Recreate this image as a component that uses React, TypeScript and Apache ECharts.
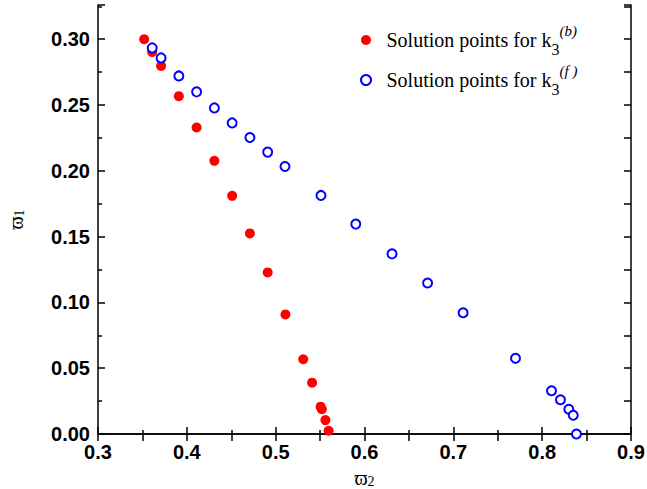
import React, { useEffect, useRef } from "react";
import * as echarts from "echarts";

const redX = [0.352, 0.361, 0.371, 0.391, 0.411, 0.431, 0.451, 0.471, 0.491, 0.511, 0.531, 0.541, 0.5506, 0.552, 0.556, 0.5596];
const redY = [0.300, 0.2903, 0.2797, 0.2567, 0.2329, 0.2076, 0.181, 0.1524, 0.1228, 0.0909, 0.0568, 0.039, 0.0208, 0.0188, 0.0106, 0.0025];
const blueX = [0.361, 0.371, 0.391, 0.411, 0.431, 0.451, 0.471, 0.491, 0.5105, 0.551, 0.5902, 0.631, 0.671, 0.711, 0.77, 0.8105, 0.8206, 0.83, 0.835, 0.8386];
const blueY = [0.2934, 0.2858, 0.2721, 0.26, 0.2478, 0.2364, 0.2253, 0.2142, 0.2033, 0.1813, 0.1595, 0.1369, 0.1147, 0.0921, 0.0575, 0.0329, 0.026, 0.0188, 0.0142, 0.0];

const xTicks = { min: 0.3, max: 0.9, interval: 0.1 };
const yTicks = { min: 0, max: 0.326, interval: 0.05 };

const seriesNames = ["Solution points for k3(b)", "Solution points for k3(f)"];

export default function App() {
  const ref = useRef<HTMLDivElement>(null);
  useEffect(() => {
    if (!ref.current) return;
    const chart = echarts.init(ref.current, null, { renderer: "svg" });
    const axisLine = { show: true, lineStyle: { color: "#000", width: 1.5 } };
    const labelFont = {
      fontFamily: "Liberation Sans",
      fontWeight: "bold" as const,
      fontSize: 20,
      color: "#000",
    };
    const tick = { show: true, inside: true, length: 7, lineStyle: { color: "#000", width: 1.5 } };
    const minor = { show: true, splitNumber: 2, length: 4, lineStyle: { color: "#000", width: 1.5 } };
    const nameRich = {
      w: { fontFamily: "Liberation Serif, DejaVu Serif", fontSize: 20, color: "#000" },
      s: { fontFamily: "Liberation Serif", fontSize: 14, color: "#000", verticalAlign: "bottom" as const, lineHeight: 14 },
    };
    chart.setOption({
      animation: false,
      backgroundColor: "#fff",
      grid: { left: 98, right: 16, top: 5, bottom: 55, containLabel: false, outerBoundsMode: "none" },
      legend: {
        orient: "vertical",
        left: 355,
        top: 18,
        itemWidth: 31,
        itemHeight: 10,
        itemGap: 6,
        data: [
          { name: seriesNames[0], icon: "circle", itemStyle: { color: "#ff0000", borderWidth: 0, opacity: 1 } },
          { name: seriesNames[1], icon: "circle", itemStyle: { color: "#ffffff", borderColor: "#0000ff", borderWidth: 2, opacity: 1 } },
        ],
        formatter: (name: string) =>
          name === seriesNames[0]
            ? "{t|Solution points for k}{sub|3}{sup|(b)}"
            : "{t|Solution points for k}{sub|3}{sup|(f )}",
        textStyle: {
          rich: {
            t: { fontFamily: "Liberation Serif", fontSize: 20, color: "#000", lineHeight: 34 },
            sub: { fontFamily: "Liberation Serif", fontSize: 16, color: "#000", verticalAlign: "bottom", lineHeight: 14 },
            sup: { fontFamily: "Liberation Serif", fontSize: 15, fontStyle: "italic", color: "#000", verticalAlign: "top", lineHeight: 15 },
          },
        },
      },
      xAxis: [
        {
          type: "value",
          position: "bottom",
          min: xTicks.min,
          max: xTicks.max,
          interval: xTicks.interval,
          axisLine,
          axisTick: tick,
          minorTick: minor,
          splitLine: { show: false },
          axisLabel: { ...labelFont, margin: 8, formatter: (v: number) => v.toFixed(1) },
          name: "{w|ϖ}{s|2}",
          nameLocation: "middle",
          nameGap: 34,
          nameTextStyle: { rich: nameRich },
        },
        {
          type: "value",
          position: "top",
          min: xTicks.min,
          max: xTicks.max,
          interval: xTicks.interval / 2,
          axisLine,
          axisTick: tick,
          splitLine: { show: false },
          axisLabel: { show: false },
        },
      ],
      yAxis: [
        {
          type: "value",
          position: "left",
          min: yTicks.min,
          max: yTicks.max,
          interval: yTicks.interval,
          axisLine,
          axisTick: tick,
          minorTick: minor,
          splitLine: { show: false },
          axisLabel: {
            ...labelFont,
            margin: 8,
            showMaxLabel: false,
            formatter: (v: number) => (Math.abs((v / 0.05) - Math.round(v / 0.05)) < 1e-6 ? v.toFixed(2) : ""),
          },
          name: "{w|ϖ}{s|1}",
          nameLocation: "middle",
          nameGap: 72,
          nameTextStyle: { rich: nameRich },
        },
        {
          type: "value",
          position: "right",
          min: yTicks.min,
          max: yTicks.max,
          interval: yTicks.interval / 2,
          axisLine,
          axisTick: tick,
          splitLine: { show: false },
          axisLabel: { show: false },
        },
      ],
      series: [
        {
          name: seriesNames[0],
          type: "scatter",
          symbol: "circle",
          symbolSize: 10,
          itemStyle: { color: "#ff0000", opacity: 1 },
          data: redX.map((x, i) => [x, redY[i]]),
          z: 2,
        },
        {
          name: seriesNames[1],
          type: "scatter",
          symbol: "emptyCircle",
          symbolSize: 9,
          itemStyle: { color: "#0000ff", borderColor: "#0000ff", borderWidth: 2, opacity: 1 },
          data: blueX.map((x, i) => [x, blueY[i]]),
          z: 3,
        },
      ],
    });
    return () => chart.dispose();
  }, []);
  return <div ref={ref} style={{ width: 647, height: 489, position: "absolute", left: 0, top: 0 }} />;
}
